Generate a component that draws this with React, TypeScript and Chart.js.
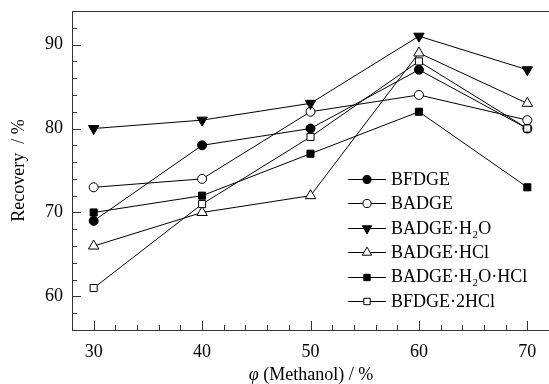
import React, { useEffect, useRef } from "react";
import { Chart, registerables } from "chart.js";
import { drawPoint } from "chart.js/helpers";

Chart.register(...registerables);

const methanol = [30, 40, 50, 60, 70];
const bfdge = [69, 78, 80, 87, 80];
const badge = [73, 74, 82, 84, 81];
const badgeH2O = [80, 81, 83, 91, 87];
const badgeHCl = [66, 70, 72, 89, 83];
const badgeH2OHCl = [70, 72, 77, 82, 73];
const bfdge2HCl = [61, 71, 79, 88, 80];

const seriesNames = ["BFDGE", "BADGE", "BADGE·H₂O", "BADGE·HCl", "BADGE·H₂O·HCl", "BFDGE·2HCl"];
const xTickLabels = [30, 40, 50, 60, 70];
const yTickLabels = [60, 70, 80, 90];

const FONT = "'Liberation Serif', 'Times New Roman', serif";

const styles = [
  { pointStyle: "circle", fill: "#000", radius: 4.5, rotation: 0 },
  { pointStyle: "circle", fill: "#fff", radius: 4.5, rotation: 0 },
  { pointStyle: "triangle", fill: "#000", radius: 6, rotation: 180 },
  { pointStyle: "triangle", fill: "#fff", radius: 6, rotation: 0 },
  { pointStyle: "rect", fill: "#000", radius: 5, rotation: 0 },
  { pointStyle: "rect", fill: "#fff", radius: 5, rotation: 0 },
];

export default function App() {
  const ref = useRef<HTMLCanvasElement>(null);
  useEffect(() => {
    const values = [bfdge, badge, badgeH2O, badgeHCl, badgeH2OHCl, bfdge2HCl];
    const datasets = values.map((vals, i) => ({
      label: seriesNames[i],
      data: vals.map((v, j) => ({ x: methanol[j], y: v })),
      order: values.length - 1 - i,
      borderColor: "#000",
      borderWidth: 1,
      backgroundColor: styles[i].fill,
      pointBackgroundColor: styles[i].fill,
      pointBorderColor: "#000",
      pointBorderWidth: 1,
      pointStyle: styles[i].pointStyle,
      pointRadius: styles[i].radius,
      pointRotation: styles[i].rotation,
      tension: 0,
      clip: false as any,
    }));

    const decor = {
      id: "decor",
      afterDraw(chart: any) {
        const ctx = chart.ctx;
        const { left, right, top, bottom } = chart.chartArea;
        const xs = chart.scales.x;
        const ys = chart.scales.y;
        ctx.save();
        ctx.strokeStyle = "#333";
        ctx.lineWidth = 1;
        // top frame
        ctx.beginPath();
        ctx.moveTo(left, top + 0.5);
        ctx.lineTo(right, top + 0.5);
        ctx.stroke();
        // inward ticks
        for (let v = 28; v <= 72; v += 2) {
          const px = Math.round(xs.getPixelForValue(v)) + 0.5;
          const len = xTickLabels.includes(v) ? 9 : 5;
          ctx.beginPath();
          ctx.moveTo(px, bottom);
          ctx.lineTo(px, bottom - len);
          ctx.stroke();
        }
        for (let v = 56; v <= 94; v += 2) {
          const py = Math.round(ys.getPixelForValue(v)) + 0.5;
          const len = yTickLabels.includes(v) ? 9 : 5;
          ctx.beginPath();
          ctx.moveTo(left, py);
          ctx.lineTo(left + len, py);
          ctx.stroke();
        }
        // axis titles
        ctx.fillStyle = "#000";
        ctx.textBaseline = "middle";
        ctx.textAlign = "left";
        const xt1 = "φ";
        const xt2 = " (Methanol) / %";
        ctx.font = `italic 18px ${FONT}`;
        const w1 = ctx.measureText(xt1).width;
        ctx.font = `18px ${FONT}`;
        const w2 = ctx.measureText(xt2).width;
        const cx = 311;
        const sx = cx - (w1 + w2) / 2;
        ctx.font = `italic 18px ${FONT}`;
        ctx.fillText(xt1, sx, 375);
        ctx.font = `18px ${FONT}`;
        ctx.fillText(xt2, sx + w1, 375);
        ctx.save();
        ctx.translate(19, (top + bottom) / 2);
        ctx.rotate(-Math.PI / 2);
        ctx.textAlign = "center";
        ctx.fillText("Recovery  / %", 0, 0);
        ctx.restore();
        // legend
        const lx0 = 348, lx1 = 386, tx = 391;
        seriesNames.forEach((name, i) => {
          const y = 179 + i * 24.4;
          ctx.strokeStyle = "#000";
          ctx.beginPath();
          ctx.moveTo(lx0, Math.round(y) + 0.5);
          ctx.lineTo(lx1, Math.round(y) + 0.5);
          ctx.stroke();
          ctx.fillStyle = styles[i].fill;
          ctx.strokeStyle = "#000";
          ctx.lineWidth = 1;
          drawPoint(ctx, {
            pointStyle: styles[i].pointStyle,
            radius: styles[i].radius * 0.9,
            rotation: styles[i].rotation,
            borderWidth: 1,
          } as any, (lx0 + lx1) / 2, Math.round(y) + 0.5);
          ctx.fillStyle = "#000";
          ctx.font = `18px ${FONT}`;
          ctx.textAlign = "left";
          ctx.fillText(name, tx, y + 1);
        });
        ctx.restore();
      },
    };

    const chart = new Chart(ref.current!, {
      type: "line",
      data: { datasets },
      options: {
        animation: false,
        responsive: false,
        layout: { autoPadding: false, padding: { top: 11, right: 0, left: 0, bottom: 0 } },
        plugins: { legend: { display: false }, tooltip: { enabled: false } },
        scales: {
          x: {
            type: "linear",
            min: 28,
            max: 72,
            grid: { display: false, drawTicks: false },
            border: { display: true, color: "#333", width: 1 },
            ticks: {
              stepSize: 2,
              autoSkip: false,
              maxRotation: 0,
              padding: 11,
              color: "#000",
              font: { family: FONT, size: 18 },
              callback: (v: any) => (xTickLabels.includes(Number(v)) ? String(v) : ""),
            },
            afterFit: (s: any) => { s.height = 54; s.paddingLeft = 0; s.paddingRight = 0; },
          },
          y: {
            type: "linear",
            min: 56,
            max: 94,
            grid: { display: false, drawTicks: false },
            border: { display: true, color: "#333", width: 1 },
            ticks: {
              stepSize: 2,
              autoSkip: false,
              padding: 9,
              color: "#000",
              font: { family: FONT, size: 18 },
              callback: (v: any) => (yTickLabels.includes(Number(v)) ? String(v) : ""),
            },
            afterFit: (s: any) => { s.width = 72; s.paddingTop = 0; s.paddingBottom = 0; },
          },
        },
      },
      plugins: [decor],
    });
    return () => chart.destroy();
  }, []);

  return (
    <div style={{ position: "absolute", left: 0, top: 0, width: 549, height: 384, background: "#fff" }}>
      <canvas ref={ref} width={549} height={384} style={{ width: 549, height: 384 }} />
    </div>
  );
}
